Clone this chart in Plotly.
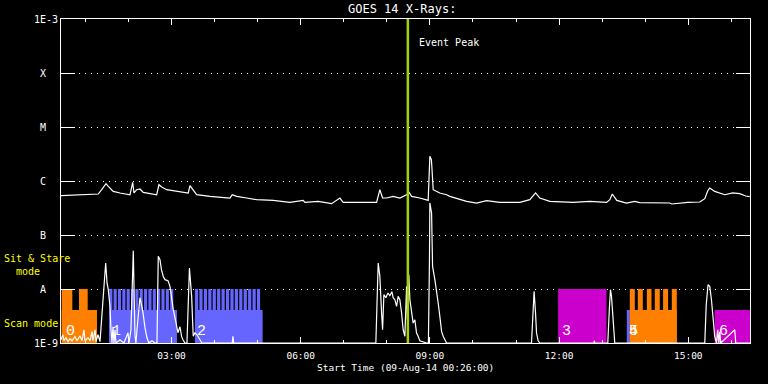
import pandas as pd
import plotly.graph_objects as go

DAY = pd.Timestamp("2014-08-09")

# ---- GOES 14 long channel (1-8 A): time [h UT], flux [W/m^2]
upper_t = [0.433, 0.874, 1.299, 1.378, 1.478, 1.531, 1.647, 1.803, 2.035, 2.098, 2.128, 2.191,
           2.267, 2.344, 2.539, 2.655, 2.708, 2.771, 2.887, 3.119, 3.388, 3.428, 3.504, 3.583,
           3.892, 4.356, 4.410, 4.512, 4.744, 4.976, 5.362, 5.749, 6.058, 6.097, 6.406, 6.717,
           6.910, 6.986, 7.374, 7.762, 7.838, 7.901, 7.994, 8.147, 8.302, 8.458, 8.518, 8.574,
           8.767, 8.960, 8.999, 9.034, 9.045, 9.076, 9.231, 9.387, 9.463, 9.695, 9.851, 10.083,
           10.315, 10.624, 11.088, 11.321, 11.453, 11.552, 11.785, 12.326, 12.714, 13.101, 13.178,
           13.236, 13.340, 13.565, 13.758, 13.874, 14.571, 14.617, 14.988, 15.267, 15.383, 15.452,
           15.499, 15.614, 15.731, 15.847, 16.033, 16.195, 16.334, 16.427]
upper_flux = [5.34e-7, 5.57e-7, 5.74e-7, 6.90e-7, 8.91e-7, 7.94e-7, 6.41e-7, 6.0e-7, 5.57e-7,
              9.42e-7, 6.0e-7, 6.90e-7, 7.11e-7, 6.15e-7, 5.82e-7, 5.57e-7, 8.54e-7, 7.74e-7,
              6.90e-7, 6.41e-7, 6.0e-7, 8.18e-7, 6.90e-7, 5.57e-7, 5.19e-7, 4.84e-7, 5.57e-7,
              5.19e-7, 4.84e-7, 4.51e-7, 4.38e-7, 4.02e-7, 4.38e-7, 4.02e-7, 4.19e-7, 3.80e-7,
              4.84e-7, 4.02e-7, 4.02e-7, 4.02e-7, 6.90e-7, 4.84e-7, 4.84e-7, 5.19e-7, 4.84e-7,
              5.57e-7, 6.15e-7, 5.19e-7, 4.84e-7, 4.38e-7, 2.86e-6, 2.48e-6, 1.86e-6, 6.90e-7,
              6.0e-7, 5.57e-7, 5.19e-7, 4.64e-7, 4.19e-7, 3.91e-7, 4.32e-7, 4.02e-7, 4.02e-7,
              4.51e-7, 6.0e-7, 4.84e-7, 4.19e-7, 4.02e-7, 4.19e-7, 4.02e-7, 4.51e-7, 5.74e-7,
              4.38e-7, 3.91e-7, 4.19e-7, 3.97e-7, 3.91e-7, 3.75e-7, 4.02e-7, 4.08e-7, 4.70e-7,
              6.61e-7, 7.41e-7, 6.41e-7, 6.0e-7, 5.57e-7, 6.0e-7, 5.82e-7, 5.27e-7, 5.12e-7]

# ---- GOES 14 short channel (0.5-4 A): (time [h UT], flux [W/m^2])
lower_pts = [
    (0.433, 1.15e-9), (0.480, 1.42e-9), (0.503, 1.10e-9), (0.549, 1.25e-9), (0.596, 1.06e-9),
    (0.642, 1.20e-9), (0.689, 1.10e-9), (0.758, 1.31e-9), (0.805, 1.10e-9), (0.874, 1.36e-9),
    (0.921, 1.10e-9), (0.967, 1.76e-9), (0.990, 1.10e-9), (1.060, 1.25e-9), (1.107, 1.10e-9),
    (1.153, 1.62e-9), (1.176, 1.10e-9), (1.223, 1.76e-9), (1.246, 1.06e-9), (1.292, 1.42e-9),
    (1.339, 1.06e-9), (1.378, 2.70e-9), (1.432, 9.71e-9), (1.471, 3.03e-8), (1.490, 1.84e-8),
    (1.501, 1.31e-8), (1.531, 9.71e-9), (1.571, 4.76e-9), (1.594, 1.76e-9), (1.617, 1.0e-9),
    (1.640, 2.0e-9), (1.664, 1.0e-9), (1.687, 1.76e-9), (1.710, 1.0e-9), (1.803, 1.15e-9),
    (1.896, 1.0e-9), (1.989, 1.55e-9), (2.012, 1.0e-9), (2.058, 1.76e-9), (2.112, 5.12e-8),
    (2.151, 1.36e-9), (2.174, 1.0e-9), (2.198, 1.76e-9), (2.232, 4.14e-9), (2.267, 6.90e-9),
    (2.302, 5.12e-9), (2.337, 3.64e-9), (2.383, 1.92e-9), (2.430, 1.25e-9), (2.476, 1.0e-9),
    (2.546, 1.10e-9), (2.615, 1.0e-9), (2.662, 1.0e-9), (2.692, 4.02e-8), (2.732, 3.49e-8),
    (2.766, 2.28e-8), (2.808, 1.71e-8), (2.848, 1.49e-8), (2.917, 1.43e-8), (2.964, 1.12e-8),
    (2.998, 6.90e-9), (3.040, 4.14e-9), (3.080, 2.94e-9), (3.119, 2.03e-9), (3.149, 1.55e-9),
    (3.196, 2.0e-9), (3.235, 1.31e-9), (3.265, 1.15e-9), (3.312, 1.0e-9), (3.358, 1.0e-9),
    (3.388, 6.34e-9), (3.416, 2.45e-8), (3.467, 7.30e-9), (3.504, 1.33e-9), (3.544, 1.55e-9),
    (3.590, 1.42e-9), (3.660, 1.15e-9), (3.706, 1.0e-9), (4.410, 1.0e-9), (4.426, 1.33e-9),
    (4.444, 1.0e-9), (7.745, 1.0e-9), (7.799, 3.03e-8), (7.838, 1.71e-8), (7.878, 3.60e-9),
    (7.901, 1.76e-9), (7.931, 7.84e-9), (7.978, 6.90e-9), (8.024, 8.43e-9), (8.070, 7.52e-9),
    (8.117, 8.91e-9), (8.147, 6.90e-9), (8.186, 6.34e-9), (8.226, 4.76e-9), (8.263, 7.30e-9),
    (8.302, 6.34e-9), (8.342, 3.60e-9), (8.379, 1.76e-9), (8.419, 1.33e-9), (8.458, 1.12e-8),
    (8.476, 2.70e-9), (8.511, 1.84e-8), (8.535, 6.34e-9), (8.574, 3.64e-9), (8.611, 2.34e-9),
    (8.651, 2.70e-9), (8.690, 1.53e-9), (8.727, 1.33e-9), (8.767, 1.10e-9), (8.922, 1.0e-9),
    (8.965, 1.0e-9), (8.990, 3.49e-8), (8.999, 3.92e-7), (9.039, 2.55e-7), (9.062, 2.62e-8),
    (9.115, 1.49e-8), (9.155, 9.71e-9), (9.192, 5.51e-9), (9.231, 3.11e-9), (9.271, 1.64e-9),
    (9.308, 1.33e-9), (9.347, 1.15e-9), (9.387, 1.0e-9), (11.359, 1.0e-9), (11.397, 3.11e-9),
    (11.420, 9.03e-9), (11.453, 3.60e-9), (11.476, 1.53e-9), (11.513, 1.10e-9), (11.552, 1.0e-9),
    (12.806, 1.0e-9), (12.820, 1.10e-9), (12.829, 1.0e-9), (13.131, 1.0e-9), (13.166, 4.14e-9),
    (13.193, 9.71e-9), (13.217, 7.30e-9), (13.254, 2.70e-9), (13.270, 1.33e-9), (13.293, 1.0e-9),
    (15.383, 1.0e-9), (15.417, 5.12e-9), (15.459, 1.20e-8), (15.499, 1.12e-8), (15.538, 6.34e-9),
    (15.575, 2.70e-9), (15.614, 1.33e-9), (15.654, 1.0e-9), (15.684, 1.76e-9), (15.708, 1.0e-9),
    (15.731, 1.62e-9), (15.754, 1.0e-9), (16.079, 1.76e-9), (16.102, 1.0e-9), (16.427, 1.0e-9),
]
lower_t = [p[0] for p in lower_pts]
lower_flux = [p[1] for p in lower_pts]

# ---- observation blocks (IRIS-like coverage)
obs_label = ["0", "1", "2", "3", "4", "5", "6"]
obs_start = [0.450, 1.548, 3.544, 11.977, 13.572, 13.642, 15.614]
obs_end = [1.269, 3.126, 5.115, 13.101, 13.642, 14.733, 16.50]
obs_mode = ["scan", "scan", "scan", "stare", "scan", "scan", "scan"]
obs_color = ["#ff8000", "#6666ff", "#6666ff", "#cc00cc", "#6666ff", "#ff8000", "#cc00cc"]

# sit & stare steps within scan blocks
steps0_start = [0.450, 0.851]
steps0_end = [0.696, 1.053]
steps1_start = [1.554, 1.655, 1.756, 1.857, 1.958, 2.059, 2.160, 2.261, 2.362, 2.463, 2.564,
                2.665, 2.766, 2.867, 2.968]
steps1_end = [1.626, 1.727, 1.828, 1.929, 2.030, 2.131, 2.232, 2.333, 2.434, 2.535, 2.636,
              2.737, 2.838, 2.939, 3.040]
steps2_start = [3.544, 3.647, 3.750, 3.853, 3.955, 4.058, 4.161, 4.264, 4.367, 4.469, 4.572,
                4.675, 4.778, 4.881, 4.983]
steps2_end = [3.618, 3.721, 3.824, 3.927, 4.029, 4.132, 4.235, 4.338, 4.441, 4.543, 4.646,
              4.749, 4.852, 4.955, 5.057]
steps5_start = [13.642, 13.828, 14.037, 14.222, 14.415, 14.617]
steps5_end = [13.758, 13.944, 14.146, 14.338, 14.531, 14.733]

LEVEL = {"scan": 4.1e-9, "stare": 1.0e-8}
FLOOR = 1e-10

event_peak = 8.488  # h UT
x_range = [0.4333, 16.4333]

ytick_vals = [1e-3, 1e-4, 1e-5, 1e-6, 1e-7, 1e-8, 1e-9]
ytick_text = ["1E-3", "X\u00a0\u00a0", "M\u00a0\u00a0", "C\u00a0\u00a0", "B\u00a0\u00a0",
              "A\u00a0\u00a0", "1E-9"]


def T(h):
    return DAY + pd.to_timedelta(h, unit="h")


def rects(starts, ends, top):
    xs, ys = [], []
    for a, b in zip(starts, ends):
        xs += [T(a), T(a), T(b), T(b), T(a), None]
        ys += [FLOOR, top, top, FLOOR, FLOOR, None]
    return xs, ys


fig = go.Figure()

for i in range(len(obs_label)):
    xs, ys = rects([obs_start[i]], [obs_end[i]], LEVEL[obs_mode[i]])
    fig.add_trace(go.Scatter(x=xs, y=ys, mode="lines", fill="toself",
                             fillcolor=obs_color[i], line=dict(width=0, color=obs_color[i]),
                             hoverinfo="skip"))

for st, en, col in [(steps0_start, steps0_end, obs_color[0]),
                    (steps1_start, steps1_end, obs_color[1]),
                    (steps2_start, steps2_end, obs_color[2]),
                    (steps5_start, steps5_end, obs_color[5])]:
    xs, ys = rects(st, en, LEVEL["stare"])
    fig.add_trace(go.Scatter(x=xs, y=ys, mode="lines", fill="toself", fillcolor=col,
                             line=dict(width=0, color=col), hoverinfo="skip"))

fig.add_trace(go.Scatter(x=[T(h) for h in lower_t], y=lower_flux, mode="lines",
                         line=dict(color="white", width=1.2)))
fig.add_trace(go.Scatter(x=[T(h) for h in upper_t], y=upper_flux, mode="lines",
                         line=dict(color="white", width=1.2)))

fig.add_shape(type="line", xref="x", yref="paper", x0=T(event_peak), x1=T(event_peak),
              y0=0, y1=1, line=dict(color="#a5d200", width=2.5))

FONT = "DejaVu Sans Mono"
ann = []
ann.append(dict(text="GOES 14 X-Rays:", xref="paper", yref="paper", x=0.4947, y=1.0318,
                xanchor="center", yanchor="middle", showarrow=False,
                font=dict(size=12, color="white")))
ann.append(dict(text="Event Peak", xref="x", yref="paper", x=T(event_peak), xshift=9,
                y=0.927, xanchor="left", yanchor="middle", showarrow=False,
                font=dict(size=10, color="white")))
ann.append(dict(text="Start Time (09-Aug-14 00:26:00)", xref="paper", yref="paper", x=0.5,
                y=-0.0753, xanchor="center", yanchor="middle", showarrow=False,
                font=dict(size=9.5, color="white")))
ann.append(dict(text="Sit &amp; Stare<br>\u00a0\u00a0mode", xref="paper", yref="paper",
                x=-0.086, y=0.2417, xanchor="left", yanchor="middle", align="left",
                showarrow=False, font=dict(size=10, color="#ffff00")))
ann.append(dict(text="Scan mode", xref="paper", yref="paper", x=-0.086, y=0.0596,
                xanchor="left", yanchor="middle", showarrow=False,
                font=dict(size=10, color="#ffff00")))
shifts = [2, 1, 0, 2, 0, -3, 2]
for i, lab in enumerate(obs_label):
    ann.append(dict(text=lab, xref="x", yref="paper", x=T(obs_start[i]), xshift=shifts[i],
                    y=0.035, xanchor="left", yanchor="middle", showarrow=False,
                    font=dict(size=15, color="white", family="Liberation Mono")))

fig.update_layout(
    width=768, height=384,
    margin=dict(l=61, r=18, t=19, b=41),
    paper_bgcolor="black", plot_bgcolor="black",
    showlegend=False,
    font=dict(family=FONT, color="white", size=10),
    annotations=ann,
    xaxis=dict(type="date", range=[T(x_range[0]), T(x_range[1])],
               tickformat="%H:%M", tick0=T(0), dtick=3 * 3600000,
               ticks="inside", ticklen=6, tickcolor="white", tickwidth=1,
               minor=dict(dtick=3600000, ticks="inside", ticklen=3, tickcolor="white",
                          showgrid=False),
               showline=True, linecolor="white", linewidth=1, mirror="ticks",
               showgrid=False, zeroline=False,
               tickfont=dict(size=9.5, color="white"), ticklabelstandoff=4),
    yaxis=dict(type="log", range=[-9, -3], tickvals=ytick_vals, ticktext=ytick_text,
               ticks="inside", ticklen=14, tickcolor="white", tickwidth=1,
               showline=True, linecolor="white", linewidth=1, mirror="ticks",
               showgrid=True, gridcolor="white", gridwidth=1, griddash="1px,5px",
               zeroline=False, tickfont=dict(size=10, color="white")),
)

fig.write_html("out.html",
               config={"displayModeBar": False},
               post_script="document.body.style.margin='0px';"
                           "document.body.style.background='black';")
